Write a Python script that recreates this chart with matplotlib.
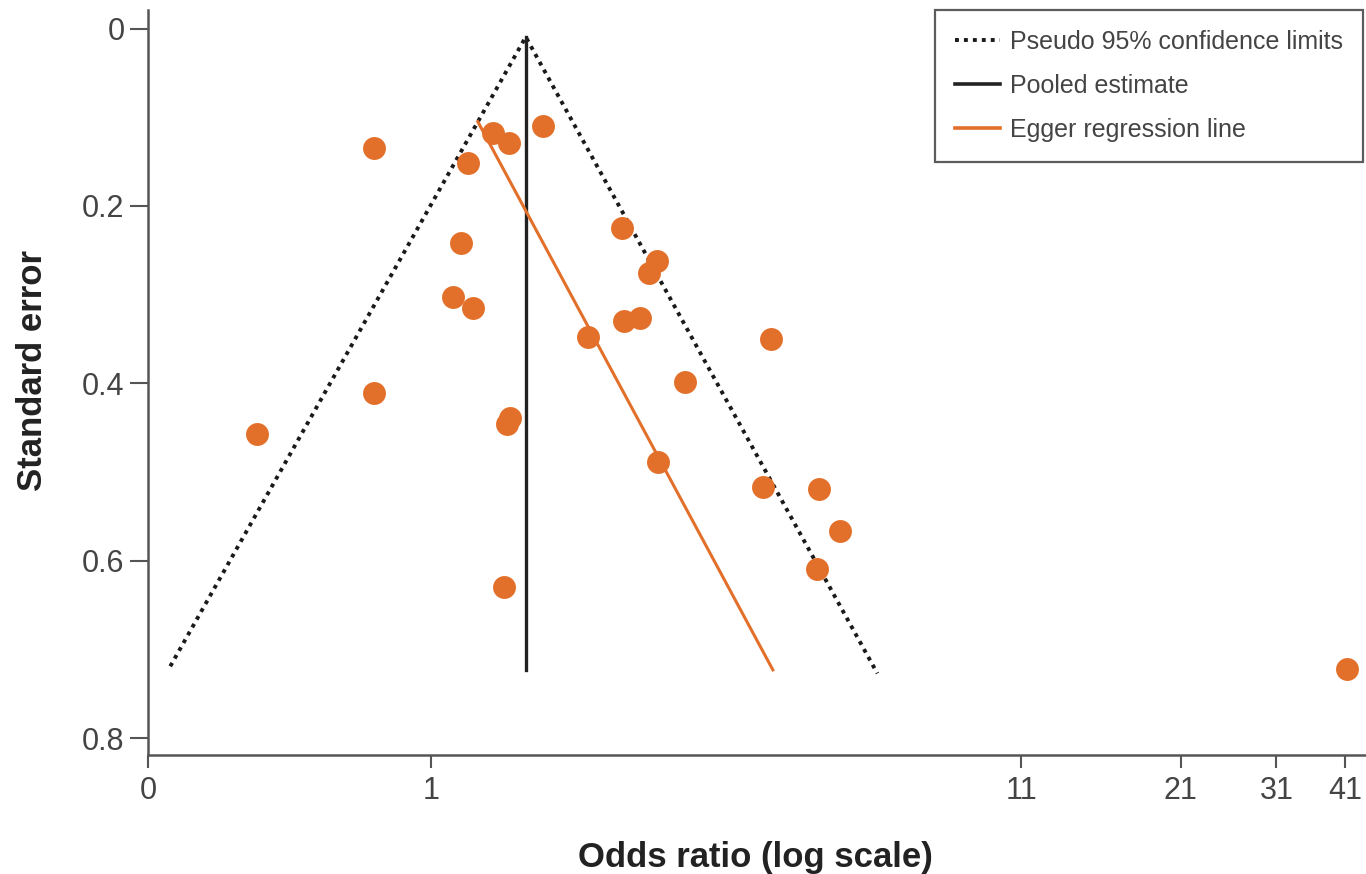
import matplotlib
matplotlib.use("Agg")
import matplotlib.pyplot as plt
from matplotlib.lines import Line2D

# Study estimates
odds_ratio = [0.793, 0.793, 0.493, 1.286, 1.373, 1.576, 1.162, 1.130, 1.094,
              1.186, 2.172, 2.504, 2.424, 2.190, 2.337, 1.892, 3.979, 2.806,
              1.378, 1.362, 2.514, 3.852, 4.836, 5.266, 4.796, 1.345, 41.3]
std_error = [0.135, 0.411, 0.457, 0.118, 0.129, 0.110, 0.152, 0.242, 0.303,
             0.315, 0.225, 0.262, 0.276, 0.330, 0.326, 0.348, 0.350, 0.399,
             0.439, 0.446, 0.489, 0.517, 0.519, 0.567, 0.609, 0.630, 0.722]

# Pseudo 95% confidence limits (left end, apex, right end)
funnel_or = [0.347, 1.47, 6.13]
funnel_se = [0.719, 0.0095, 0.727]

# Pooled estimate
pooled_or = [1.47, 1.47]
pooled_se = [0.0095, 0.723]

# Egger regression line
egger_or = [1.21, 4.01]
egger_se = [0.105, 0.723]

xtick_vals = [0.317, 1, 11, 21, 31, 41]
xtick_labels = ["0", "1", "11", "21", "31", "41"]
ytick_vals = [0, 0.2, 0.4, 0.6, 0.8]
ytick_labels = ["0", "0.2", "0.4", "0.6", "0.8"]

orange = "#E3702A"
grey = "#555555"
plt.rcParams["font.family"] = ["Liberation Sans", "DejaVu Sans"]

fig = plt.figure(figsize=(13.66, 8.74), dpi=100)
ax = fig.add_axes([148 / 1366, 1 - 755 / 874, 1 - 148 / 1366, (755 - 10) / 874])

ax.plot(funnel_or, funnel_se, color="#1a1a1a", lw=2.8, linestyle=(0, (1, 1.3)))
ax.plot(pooled_or, pooled_se, color="#222222", lw=2.4)
ax.plot(egger_or, egger_se, color=orange, lw=2.2)
ax.plot(odds_ratio, std_error, "o", color=orange, markersize=16.5, markeredgewidth=0)

ax.set_xscale("log")
ax.set_xlim(0.317, 44.6)
ax.set_ylim(0.819, -0.0209)
ax.set_xticks(xtick_vals)
ax.set_xticklabels(xtick_labels)
ax.minorticks_off()
ax.set_yticks(ytick_vals)
ax.set_yticklabels(ytick_labels)

for side in ["top", "right"]:
    ax.spines[side].set_visible(False)
for side in ["left", "bottom"]:
    ax.spines[side].set_color(grey)
    ax.spines[side].set_linewidth(1.8)
ax.tick_params(axis="x", length=9, width=1.5, color=grey, labelsize=22,
               labelcolor="#444444", pad=6)
ax.tick_params(axis="y", length=13, width=1.5, color=grey, labelsize=22,
               labelcolor="#444444", pad=4)

fig.text(755 / 1366, 1 - 857 / 874, "Odds ratio (log scale)", ha="center",
         va="center", fontsize=25, fontweight="bold", color="#222222")
fig.text(33 / 1366, 1 - 370 / 874, "Standard error", ha="center", va="center",
         rotation=90, fontsize=25, fontweight="bold", color="#222222")

handles = [
    Line2D([], [], color="#1a1a1a", lw=2.8, linestyle=(0, (1, 1.3))),
    Line2D([], [], color="#222222", lw=2.6),
    Line2D([], [], color=orange, lw=2.6),
]
labels = ["Pseudo 95% confidence limits", "Pooled estimate", "Egger regression line"]
leg = fig.legend(handles, labels, loc="upper left",
                 bbox_to_anchor=(935 / 1366, 1 - 10 / 874), borderaxespad=0,
                 fontsize=18, frameon=True, fancybox=False, handlelength=1.8,
                 handletextpad=0.4, borderpad=0.8, labelspacing=0.8,
                 labelcolor="#444444")
leg.get_frame().set_edgecolor("#333333")
leg.get_frame().set_linewidth(1.6)

fig.savefig("out.png", dpi=100)
